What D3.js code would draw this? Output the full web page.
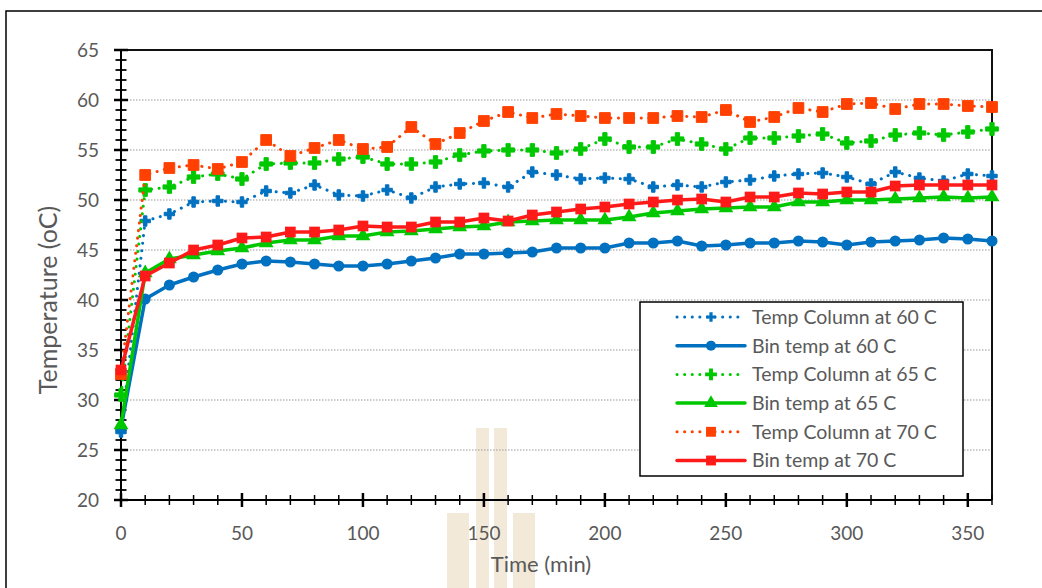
<!DOCTYPE html>
<html>
<head>
<meta charset="utf-8">
<script src="https://cdn.jsdelivr.net/npm/d3@7"></script>
<style>
  body { margin: 0; background: #fff; }
  text { font-family: Lato, "Open Sans", sans-serif; fill: #595959; }
</style>
</head>
<body>
<div id="chart"></div>
<script>
// time in minutes
const times = [0,10,20,30,40,50,60,70,80,90,100,110,120,130,140,150,160,170,180,190,200,210,220,230,240,250,260,270,280,290,300,310,320,330,340,350,360];

const colTemp60 = [26.8,47.9,48.6,49.8,49.9,49.8,50.9,50.7,51.5,50.5,50.4,51.0,50.2,51.3,51.6,51.7,51.3,52.8,52.5,52.1,52.2,52.1,51.3,51.5,51.3,51.8,52.0,52.4,52.6,52.7,52.3,51.6,52.8,52.2,51.9,52.6,52.4];
const binTemp60 = [27.2,40.1,41.5,42.3,43.0,43.6,43.9,43.8,43.6,43.4,43.4,43.6,43.9,44.2,44.6,44.6,44.7,44.8,45.2,45.2,45.2,45.7,45.7,45.9,45.4,45.5,45.7,45.7,45.9,45.8,45.5,45.8,45.9,46.0,46.2,46.1,45.9];
const colTemp65 = [30.5,51.0,51.3,52.3,52.6,52.1,53.6,53.7,53.7,54.1,54.3,53.6,53.6,53.8,54.5,54.9,55.0,55.0,54.7,55.1,56.1,55.3,55.3,56.1,55.6,55.1,56.2,56.2,56.4,56.6,55.7,55.9,56.5,56.7,56.5,56.8,57.1];
const binTemp65 = [27.5,42.7,44.1,44.5,44.9,45.2,45.7,46.0,46.0,46.4,46.4,46.8,46.9,47.1,47.3,47.4,47.8,47.9,48.0,48.0,48.0,48.3,48.7,48.9,49.1,49.2,49.3,49.3,49.8,49.8,50.0,50.0,50.1,50.2,50.3,50.2,50.3];
const colTemp70 = [32.6,52.5,53.2,53.5,53.1,53.8,56.0,54.4,55.2,56.0,55.1,55.3,57.3,55.6,56.7,57.9,58.8,58.2,58.6,58.4,58.2,58.2,58.2,58.4,58.3,59.0,57.8,58.3,59.2,58.8,59.6,59.7,59.1,59.6,59.6,59.4,59.3];
const binTemp70 = [33.0,42.4,43.7,45.0,45.5,46.2,46.3,46.8,46.8,47.0,47.4,47.3,47.3,47.8,47.8,48.2,47.9,48.5,48.8,49.1,49.3,49.6,49.8,50.0,50.1,49.8,50.3,50.3,50.7,50.6,50.8,50.8,51.4,51.5,51.5,51.5,51.5];

const xTicks = [0,50,100,150,200,250,300,350];
const yTicks = [20,25,30,35,40,45,50,55,60,65];

const seriesNames = ['Temp Column at 60 C','Bin temp at 60 C','Temp Column at 65 C','Bin temp at 65 C','Temp Column at 70 C','Bin temp at 70 C'];

document.addEventListener('DOMContentLoaded', function() {
  let w = 1042, h = 588;

  let svg = d3.select('#chart')
    .append('svg')
    .attr('width', w)
    .attr('height', h);

  // outer chart border
  svg.append('rect')
    .attr('x', 6).attr('y', 11)
    .attr('width', 1060).attr('height', 620)
    .attr('fill', 'none')
    .attr('stroke', '#000')
    .attr('stroke-width', 1.5);

  // faint watermark behind the plot
  let wm = svg.append('g').attr('fill', '#f3e9d8');
  wm.append('rect').attr('x', 476).attr('y', 428).attr('width', 13).attr('height', 160);
  wm.append('rect').attr('x', 494).attr('y', 428).attr('width', 13).attr('height', 160);
  wm.append('rect').attr('x', 447).attr('y', 513).attr('width', 22).attr('height', 75);
  wm.append('rect').attr('x', 513).attr('y', 513).attr('width', 22).attr('height', 75);

  const xScale = d3.scaleLinear().domain([0, 360]).range([121, 992]);
  const yScale = d3.scaleLinear().domain([20, 65]).range([500, 50]);

  // gridlines
  svg.append('g')
    .selectAll('line')
    .data(yTicks.filter(d => d > 20 && d < 65))
    .enter()
    .append('line')
    .attr('x1', xScale(0)).attr('x2', xScale(360))
    .attr('y1', d => yScale(d)).attr('y2', d => yScale(d))
    .attr('stroke', '#9a9a9a')
    .attr('stroke-width', 1.2)
    .attr('stroke-dasharray', '1.5 1.5');

  // plot frame top + right
  svg.append('path')
    .attr('d', 'M' + xScale(0) + ',' + yScale(65) + 'H' + xScale(360) + 'V' + yScale(20))
    .attr('fill', 'none')
    .attr('stroke', '#111')
    .attr('stroke-width', 2);

  // y axis with minor ticks crossing the line
  let yAxisG = svg.append('g').attr('id', 'y-axis');
  yAxisG.append('line')
    .attr('x1', xScale(0)).attr('x2', xScale(0))
    .attr('y1', yScale(20)).attr('y2', yScale(65))
    .attr('stroke', '#000').attr('stroke-width', 2);
  yAxisG.selectAll('.minor')
    .data(yScale.ticks(45))
    .enter()
    .append('line')
    .attr('x1', d => xScale(0) - (d % 5 === 0 ? 7 : 5.5))
    .attr('x2', d => xScale(0) + (d % 5 === 0 ? 7 : 5.5))
    .attr('y1', d => yScale(d)).attr('y2', d => yScale(d))
    .attr('stroke', '#000')
    .attr('stroke-width', d => d % 5 === 0 ? 2.5 : 1.8);
  yAxisG.selectAll('text')
    .data(yTicks)
    .enter()
    .append('text')
    .attr('x', 99)
    .attr('y', d => yScale(d))
    .attr('dy', '0.35em')
    .attr('text-anchor', 'end')
    .style('font-size', '19px')
    .text(d => d);

  // x axis
  let xAxisG = svg.append('g').attr('id', 'x-axis');
  xAxisG.append('line')
    .attr('x1', xScale(0)).attr('x2', xScale(360))
    .attr('y1', yScale(20)).attr('y2', yScale(20))
    .attr('stroke', '#000').attr('stroke-width', 2);
  xAxisG.selectAll('.minor')
    .data(times)
    .enter()
    .append('line')
    .attr('x1', d => xScale(d)).attr('x2', d => xScale(d))
    .attr('y1', d => yScale(20) - (d % 50 === 0 ? 7 : 5))
    .attr('y2', d => yScale(20) + (d % 50 === 0 ? 7 : 5))
    .attr('stroke', '#000')
    .attr('stroke-width', d => d % 50 === 0 ? 2.5 : 1.5);
  xAxisG.selectAll('text')
    .data(xTicks)
    .enter()
    .append('text')
    .attr('x', d => xScale(d))
    .attr('y', 533)
    .attr('dy', '0.35em')
    .attr('text-anchor', 'middle')
    .style('font-size', '19px')
    .text(d => d);

  // axis titles
  svg.append('text')
    .attr('x', 541).attr('y', 564)
    .attr('dy', '0.35em')
    .attr('text-anchor', 'middle')
    .style('font-size', '22px')
    .text('Time (min)');
  svg.append('text')
    .attr('transform', 'translate(48,300) rotate(-90)')
    .attr('dy', '0.35em')
    .attr('text-anchor', 'middle')
    .style('font-size', '25px')
    .text('Temperature (oC)');

  // series styles
  let series = [
    { name: seriesNames[0], values: colTemp60, color: '#0070c0', dotted: true, shape: d3.symbolCross, size: 60 },
    { name: seriesNames[1], values: binTemp60, color: '#0070c0', dotted: false, shape: d3.symbolCircle, size: 95 },
    { name: seriesNames[2], values: colTemp65, color: '#00c800', dotted: true, shape: d3.symbolCross, size: 90 },
    { name: seriesNames[3], values: binTemp65, color: '#00c800', dotted: false, shape: d3.symbolTriangle, size: 95 },
    { name: seriesNames[4], values: colTemp70, color: '#ff4000', dotted: true, shape: d3.symbolSquare, size: 115 },
    { name: seriesNames[5], values: binTemp70, color: '#ff1a1a', dotted: false, shape: d3.symbolSquare, size: 115 }
  ];

  let line = d3.line()
    .x((d, i) => xScale(times[i]))
    .y(d => yScale(d));

  series.forEach(s => {
    let g = svg.append('g');
    g.append('path')
      .datum(s.values)
      .attr('d', line)
      .attr('fill', 'none')
      .attr('stroke', s.color)
      .attr('stroke-width', s.dotted ? 3 : 3.5)
      .attr('stroke-linecap', 'round')
      .attr('stroke-linejoin', 'round')
      .attr('stroke-dasharray', s.dotted ? '0.1 7.5' : null);
    g.selectAll('path.mark')
      .data(s.values)
      .enter()
      .append('path')
      .attr('class', 'mark')
      .attr('transform', (d, i) => 'translate(' + xScale(times[i]) + ',' + yScale(d) + ')')
      .attr('d', d3.symbol().type(s.shape).size(s.size))
      .attr('fill', s.color)
      .attr('stroke', s.dotted ? s.color : 'none')
      .attr('stroke-width', s.dotted ? 1 : 0);
  });

  // legend
  let legend = svg.append('g');
  legend.append('rect')
    .attr('x', 640).attr('y', 302)
    .attr('width', 323).attr('height', 174)
    .attr('fill', '#fff')
    .attr('stroke', '#000')
    .attr('stroke-width', 1.5);
  series.forEach((s, i) => {
    let y = 317 + i * 28.7;
    legend.append('line')
      .attr('x1', 677).attr('x2', 745)
      .attr('y1', y).attr('y2', y)
      .attr('stroke', s.color)
      .attr('stroke-width', s.dotted ? 3 : 3.5)
      .attr('stroke-linecap', 'round')
      .attr('stroke-dasharray', s.dotted ? '0.1 7.5' : null);
    legend.append('path')
      .attr('transform', 'translate(711,' + y + ')')
      .attr('d', d3.symbol().type(s.shape).size(s.size * 0.85))
      .attr('fill', s.color);
    legend.append('text')
      .attr('x', 752).attr('y', y)
      .attr('dy', '0.35em')
      .style('font-size', '19.5px')
      .text(s.name);
  });
});
</script>
</body>
</html>
